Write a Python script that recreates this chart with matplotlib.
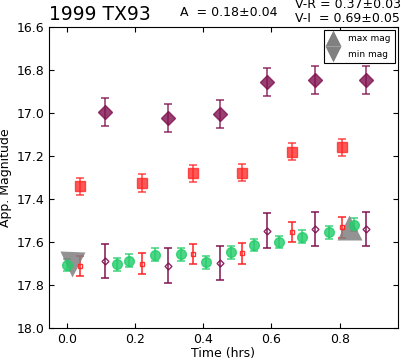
import matplotlib
matplotlib.use("Agg")
import matplotlib.pyplot as plt
from matplotlib.lines import Line2D

# time (hrs) of each band's exposures
t_diamond = [0.111, 0.296, 0.448, 0.586, 0.729, 0.878]
t_square = [0.038, 0.222, 0.369, 0.515, 0.659, 0.808]
t_circle = [0.001, 0.148, 0.182, 0.259, 0.334, 0.408,
            0.481, 0.549, 0.622, 0.691, 0.769, 0.843]

# apparent magnitudes
mag_diamond = [16.995, 17.023, 17.005, 16.856, 16.847, 16.847]
err_diamond = [0.065, 0.065, 0.065, 0.065, 0.065, 0.065]
mag_square = [17.34, 17.325, 17.28, 17.278, 17.18, 17.16]
err_square = [0.04, 0.04, 0.04, 0.04, 0.04, 0.04]

# colour-corrected magnitudes (hollow)
mag_diamond_c = [17.687, 17.71, 17.698, 17.547, 17.538, 17.54]
err_diamond_c = [0.08, 0.08, 0.08, 0.08, 0.08, 0.08]
mag_square_c = [17.71, 17.70, 17.654, 17.653, 17.552, 17.532]
err_square_c = [0.047, 0.047, 0.047, 0.047, 0.047, 0.047]

mag_circle = [17.707, 17.704, 17.688, 17.659, 17.656, 17.694,
              17.647, 17.614, 17.60, 17.575, 17.555, 17.52]
err_circle = [0.03] * 12

t_max, mag_max = [0.827], [17.529]
t_min, mag_min = [0.017], [17.70]

purple = "#80104f"
red = "#ff2020"
green = "#22cc6a"

fig = plt.figure(figsize=(4.01, 3.62), dpi=100)
ax = fig.add_axes([0.122, 0.094, 0.8705, 0.831])

eb = dict(capsize=3, elinewidth=1.2, capthick=1.2)
ax.errorbar(t_diamond, mag_diamond, yerr=err_diamond, fmt="D", color=purple,
            ms=7, alpha=0.8, mec=purple, **eb)
ax.errorbar(t_square, mag_square, yerr=err_square, fmt="s", color=red,
            ms=7, alpha=0.75, mec=red, **eb)
ax.errorbar(t_diamond, mag_diamond_c, yerr=err_diamond_c, fmt="D", color=purple,
            mfc="none", ms=3.5, alpha=0.9, **eb)
ax.errorbar(t_square, mag_square_c, yerr=err_square_c, fmt="s", color=red,
            mfc="none", ms=3.5, alpha=0.9, **eb)
ax.errorbar(t_circle, mag_circle, yerr=err_circle, fmt="o", color=green,
            ms=7, alpha=0.8, mec=green, **eb)
ax.plot(t_max, mag_max, "^", color="gray", ms=18, alpha=0.85, mec="none")
ax.plot(t_min, mag_min, "v", color="gray", ms=18, alpha=0.85, mec="none")

ax.set_xlim(-0.052, 0.971)
ax.set_ylim(18.0, 16.6)
ax.set_xticks([0.0, 0.2, 0.4, 0.6, 0.8])
ax.set_yticks([16.6, 16.8, 17.0, 17.2, 17.4, 17.6, 17.8, 18.0])
ax.tick_params(direction="in", top=True, right=True, labelsize=9)
ax.set_xlabel("Time (hrs)", fontsize=9, labelpad=1)
ax.set_ylabel("App. Magnitude", fontsize=9, labelpad=3)

handles = [Line2D([], [], marker="^", ls="none", color="gray", ms=11, mec="none"),
           Line2D([], [], marker="v", ls="none", color="gray", ms=11, mec="none")]
leg = ax.legend(handles, ["max mag", "min mag"], loc="upper right", fontsize=6.5,
                fancybox=False, framealpha=1, edgecolor="black",
                handletextpad=1.2, labelspacing=0.7, borderaxespad=0.3,
                borderpad=0.5, handlelength=1.0)
leg.get_frame().set_linewidth(0.8)

ax.text(0.0, 1.01, "1999 TX93", transform=ax.transAxes, fontsize=13.5,
        ha="left", va="bottom")
fig.text(180 / 401, 1 - 13 / 362, "A  = 0.18±0.04", fontsize=9,
         ha="left", va="center")
fig.text(295 / 401, 1 - 5 / 362, "V-R = 0.37±0.03", fontsize=9,
         ha="left", va="center")
fig.text(295 / 401, 1 - 19 / 362, "V-I  = 0.69±0.05", fontsize=9,
         ha="left", va="center")

fig.savefig("out.png", dpi=100)
